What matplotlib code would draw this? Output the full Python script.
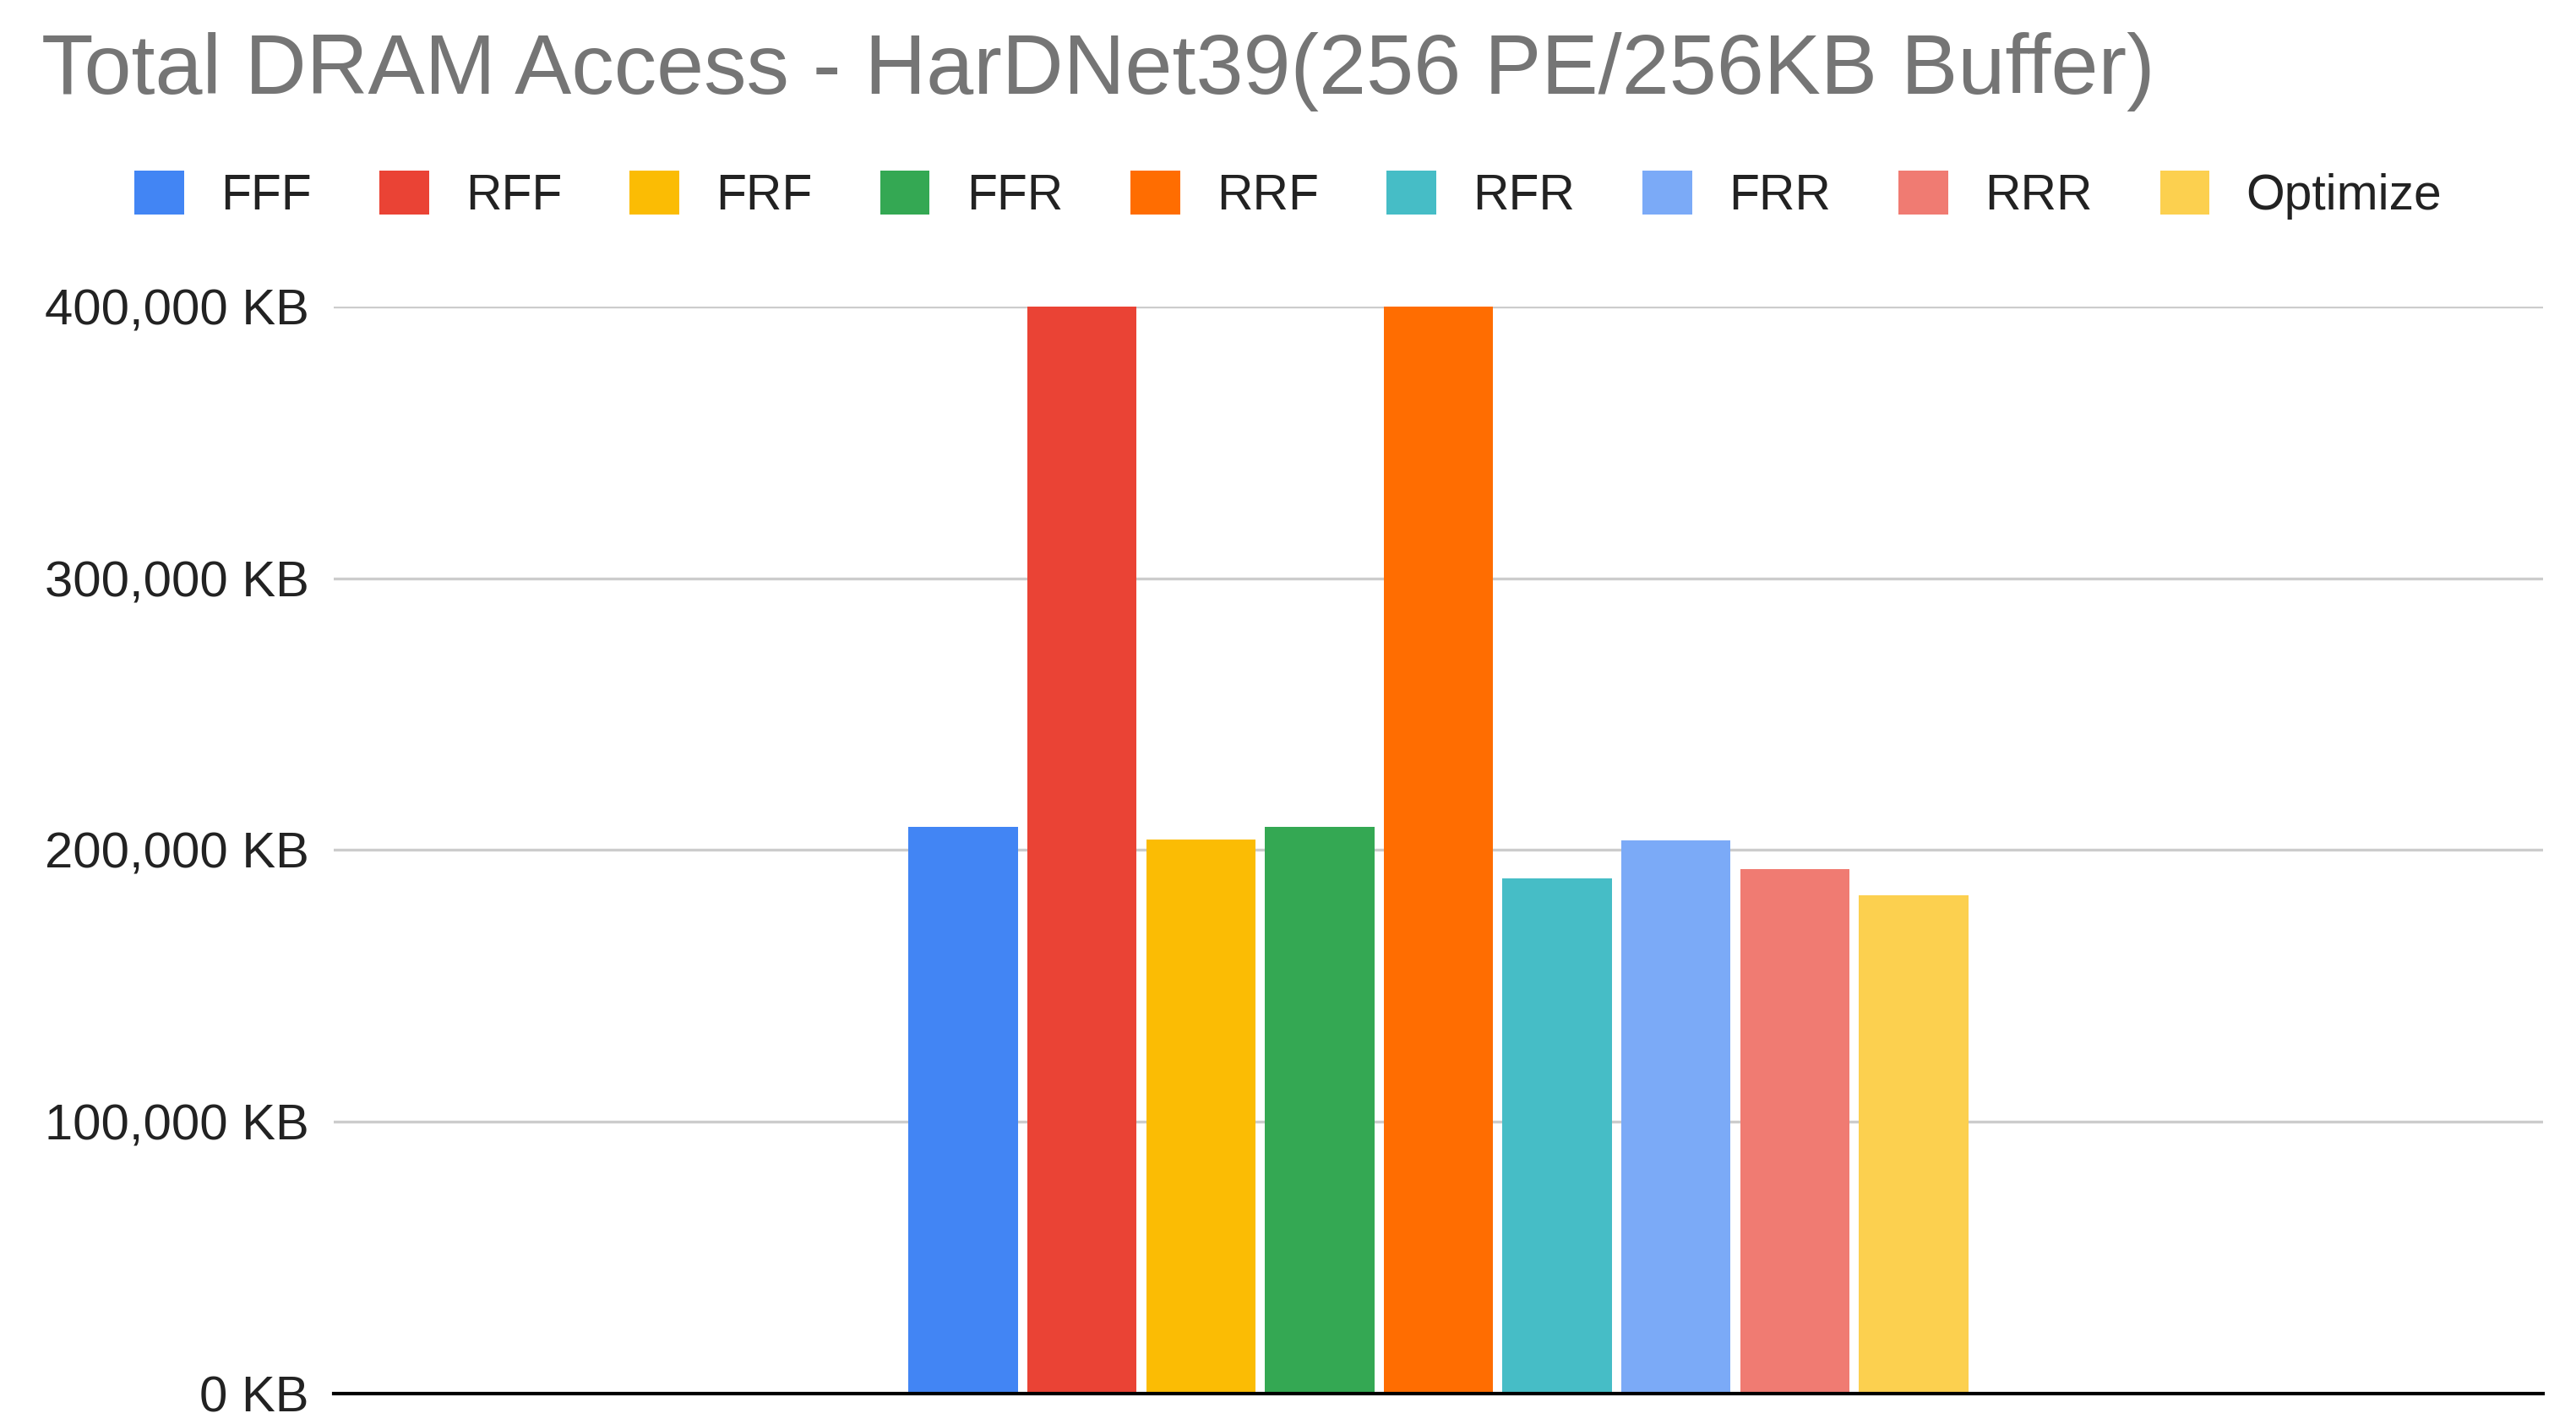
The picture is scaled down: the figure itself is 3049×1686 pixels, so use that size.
import matplotlib
matplotlib.use("Agg")
import matplotlib.pyplot as plt
from matplotlib.patches import Patch
from matplotlib.ticker import FuncFormatter

plt.rcParams['font.family'] = ['Liberation Sans', 'DejaVu Sans']

title = "Total DRAM Access - HarDNet39(256 PE/256KB Buffer)"
series = ["FFF", "RFF", "FRF", "FFR", "RRF", "RFR", "FRR", "RRR", "Optimize"]
values_kb = [208400, 400000, 203900, 208400, 400000, 189700, 203700, 192900, 183500]
colors = ["#4285F4", "#EA4335", "#FBBC04", "#34A853", "#FF6D01",
          "#46BDC6", "#7BAAF7", "#F07B72", "#FCD04F"]
yticks = [0, 100000, 200000, 300000, 400000]

W, H = 3049, 1686
fig = plt.figure(figsize=(W / 100, H / 100), dpi=100)
ax = fig.add_axes([395 / W, 1 - 1650 / H, (3010 - 395) / W, (1650 - 363) / H])

pitch = 140.6 / 2615
bw = 129.5 / 2615
n = len(series)
handles = []
for i, (name, v, c) in enumerate(zip(series, values_kb, colors)):
    x = (i - (n - 1) / 2) * pitch
    ax.bar(x, v, width=bw, color=c, zorder=3, linewidth=0)
    handles.append(Patch(facecolor=c, edgecolor='none', label=name))

ax.set_xlim(-0.5, 0.5)
ax.set_ylim(0, 400000)
ax.set_yticks(yticks)
ax.yaxis.set_major_formatter(FuncFormatter(lambda v, p: f"{int(v):,} KB"))
ax.tick_params(axis='y', length=0, pad=21, labelsize=43, labelcolor='#222222')
ax.set_xticks([])
for s in ['top', 'right', 'left']:
    ax.spines[s].set_visible(False)
ax.spines['bottom'].set_color('#000000')
ax.spines['bottom'].set_linewidth(3)
ax.spines['bottom'].set_zorder(4)
ax.yaxis.grid(True, color='#cccccc', linewidth=2.4, zorder=0)
ax.set_axisbelow(True)

fig.text(49 / W, 1 - 111 / H, title, fontsize=72.5, color='#757575',
         ha='left', va='baseline')

leg = fig.legend(handles=handles, loc='center left',
                 bbox_to_anchor=(159 / W, 1 - 231 / H), ncol=n, frameon=False,
                 fontsize=42.3, handlelength=1.0, handleheight=1.0,
                 handletextpad=0.74, columnspacing=1.36,
                 borderpad=0, borderaxespad=0, labelcolor='#222222')

fig.savefig("out.png", dpi=100, facecolor='white')
